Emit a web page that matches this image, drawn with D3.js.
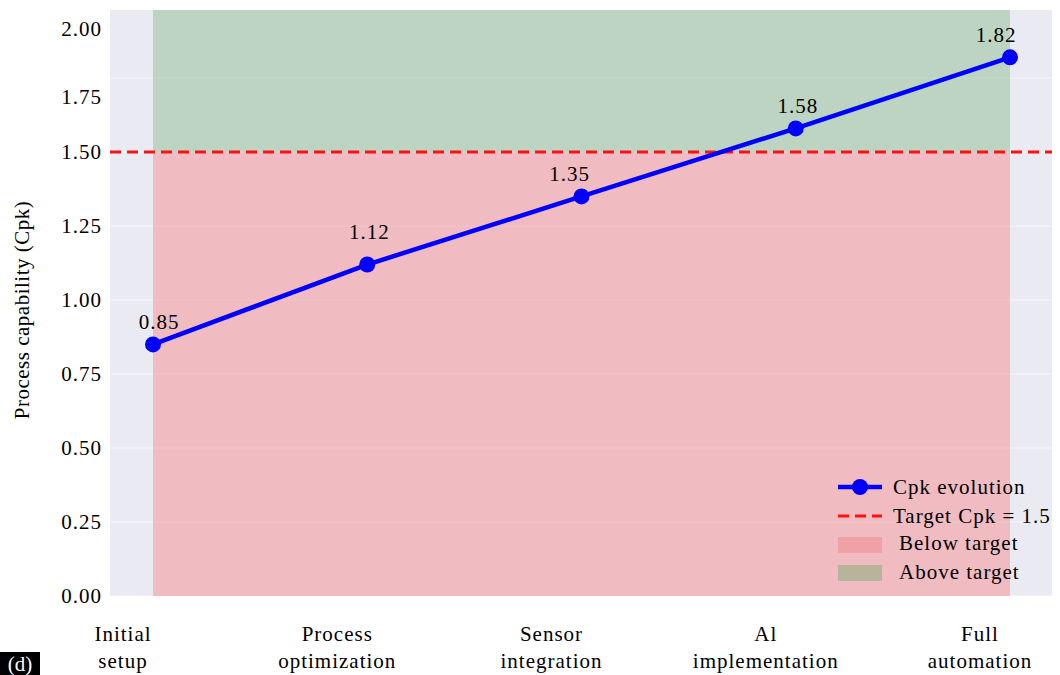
<!DOCTYPE html>
<html>
<head>
<meta charset="utf-8">
<script src="https://cdn.jsdelivr.net/npm/d3@7"></script>
<style>
  html, body { margin: 0; padding: 0; background: #ffffff; }
  svg text { font-family: "Liberation Serif", "Times New Roman", serif; fill: #000; letter-spacing: 1px; }
</style>
</head>
<body>
<svg id="chart" width="1060" height="675"></svg>
<script>
const stages = ["Initial setup", "Process optimization", "Sensor integration", "AI implementation", "Full automation"];
const stageLines = [["Initial", "setup"], ["Process", "optimization"], ["Sensor", "integration"], ["Al", "implementation"], ["Full", "automation"]];
const cpkValues = [0.85, 1.12, 1.35, 1.58, 1.82];
const targetCpk = 1.5;
const yTicks = [0, 0.25, 0.5, 0.75, 1.0, 1.25, 1.5, 1.75, 2.0];
const legendLabels = ["Cpk evolution", "Target Cpk = 1.5", "Below target", "Above target"];

const svg = d3.select("#chart");
const plot = { left: 110, right: 1052, top: 10, bottom: 596 };

const x = d3.scalePoint().domain(stages).range([153, 1010]);
const y = d3.scaleLinear().domain([0, 1.98]).range([plot.bottom, plot.top]);

// background
svg.append("rect").attr("x", plot.left).attr("y", plot.top)
  .attr("width", plot.right - plot.left).attr("height", plot.bottom - plot.top)
  .attr("fill", "#eaeaf2");

// gridlines
svg.append("g").selectAll("line").data(yTicks.filter(t => y(t) >= plot.top)).join("line")
  .attr("x1", plot.left).attr("x2", plot.right)
  .attr("y1", d => y(d)).attr("y2", d => y(d))
  .attr("stroke", "#ffffff").attr("stroke-width", 1).attr("opacity", 0.6);

const x0 = x(stages[0]), x1 = x(stages[stages.length - 1]);
// below target region
svg.append("rect").attr("x", x0).attr("y", y(targetCpk))
  .attr("width", x1 - x0).attr("height", y(0) - y(targetCpk))
  .attr("fill", "#efbac0").attr("opacity", 0.97);
// above target region
svg.append("rect").attr("x", x0).attr("y", plot.top)
  .attr("width", x1 - x0).attr("height", y(targetCpk) - plot.top)
  .attr("fill", "#bcd4c1");

// faint grid over shading
svg.append("g").selectAll("line").data(yTicks.filter(t => y(t) >= plot.top && t > 0)).join("line")
  .attr("x1", x0).attr("x2", x1)
  .attr("y1", d => y(d)).attr("y2", d => y(d))
  .attr("stroke", "#ffffff").attr("stroke-width", 1).attr("opacity", 0.12);

// target line
svg.append("line").attr("x1", plot.left).attr("x2", plot.right)
  .attr("y1", y(targetCpk)).attr("y2", y(targetCpk))
  .attr("stroke", "#ff1010").attr("stroke-width", 3).attr("stroke-dasharray", "11,6");

// series line
const line = d3.line().x((d, i) => x(stages[i])).y(d => y(d));
svg.append("path").datum(cpkValues).attr("d", line)
  .attr("fill", "none").attr("stroke", "#0000ff").attr("stroke-width", 4.5)
  .attr("stroke-linejoin", "round");
svg.append("g").selectAll("circle").data(cpkValues).join("circle")
  .attr("cx", (d, i) => x(stages[i])).attr("cy", d => y(d)).attr("r", 8)
  .attr("fill", "#0000ff");

// value labels
svg.append("g").selectAll("text").data(cpkValues).join("text")
  .attr("x", (d, i) => x(stages[i]) + (i === 0 ? 6 : i === 4 ? -14 : i === 2 ? -12 : 2))
  .attr("y", (d, i) => y(d) - (i === 1 ? 26 : 15))
  .attr("text-anchor", "middle").attr("font-size", 21)
  .text(d => d.toFixed(2));

// y axis labels
const yAxis = d3.axisLeft(y).tickValues(yTicks).tickFormat(d3.format(".2f")).tickSize(0).tickPadding(8);
const gy = svg.append("g").attr("transform", `translate(${plot.left},0)`).call(yAxis);
gy.select(".domain").remove();
gy.selectAll("text").attr("font-size", 21).attr("font-family", "Liberation Serif")
  .attr("fill", "#000")
  .attr("transform", d => d >= 1.75 ? `translate(0,${d === 2 ? 25 : 19})` : null);

// x axis labels
const gx = svg.append("g").attr("transform", `translate(-30,${plot.bottom})`);
stages.forEach((s, i) => {
  const t = gx.append("text").attr("x", x(s)).attr("y", 45)
    .attr("text-anchor", "middle").attr("font-size", 21);
  stageLines[i].forEach((ln, j) => {
    t.append("tspan").attr("x", x(s)).attr("dy", j === 0 ? 0 : 27).text(ln);
  });
});

// y title
svg.append("text").attr("transform", `translate(29,310) rotate(-90)`)
  .attr("text-anchor", "middle").attr("font-size", 21).style("letter-spacing", "0.5px")
  .text("Process capability (Cpk)");

// legend
const lg = svg.append("g").attr("transform", "translate(838,487)");
const rowH = 29;
lg.append("line").attr("x1", 0).attr("x2", 44).attr("y1", 0).attr("y2", 0)
  .attr("stroke", "#0000ff").attr("stroke-width", 4.5);
lg.append("circle").attr("cx", 22).attr("cy", 0).attr("r", 8).attr("fill", "#0000ff");
lg.append("line").attr("x1", 0).attr("x2", 44).attr("y1", rowH).attr("y2", rowH)
  .attr("stroke", "#ff1010").attr("stroke-width", 3).attr("stroke-dasharray", "11,6");
lg.append("rect").attr("x", 0).attr("y", 2 * rowH - 8).attr("width", 44).attr("height", 16)
  .attr("fill", "#f0a0a7");
lg.append("rect").attr("x", 0).attr("y", 3 * rowH - 9).attr("width", 44).attr("height", 16)
  .attr("fill", "#b8b39b");
legendLabels.forEach((l, i) => {
  lg.append("text").attr("x", i < 2 ? 55 : 61).attr("y", i * rowH - (i > 1 ? 2 : 0)).attr("dy", "0.35em")
    .attr("font-size", 21).text(l);
});

// panel tag
svg.append("rect").attr("x", 0).attr("y", 652).attr("width", 40).attr("height", 23).attr("fill", "#000");
svg.append("text").attr("x", 20).attr("y", 671).attr("text-anchor", "middle")
  .attr("font-size", 21).style("fill", "#fff").style("letter-spacing", "0px").text("(d)");
</script>
</body>
</html>
